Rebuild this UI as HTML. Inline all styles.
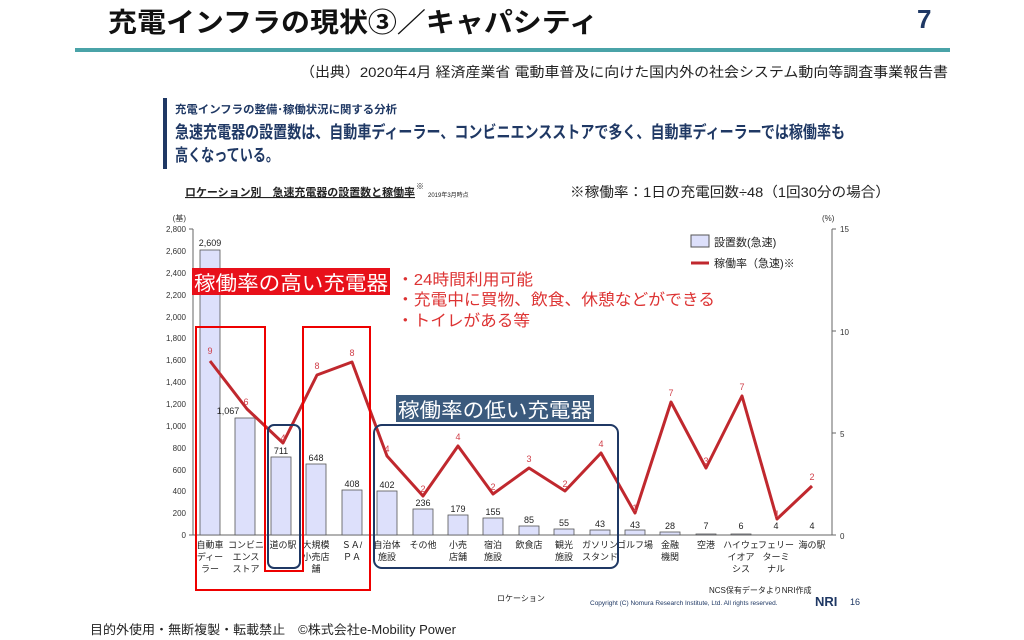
<!DOCTYPE html>
<html><head><meta charset="utf-8"><style>
body{margin:0;width:1024px;height:640px;background:#fff;overflow:hidden;position:relative;font-family:"Liberation Sans","Noto Sans CJK JP",sans-serif}
.a{position:absolute;white-space:nowrap}
</style></head><body>
<svg class="a" style="left:0;top:0" width="1024" height="640" font-family="Liberation Sans, Noto Sans CJK JP, sans-serif">
<text x="108" y="32" font-size="27" font-weight="bold" fill="#111" textLength="490" lengthAdjust="spacingAndGlyphs">充電インフラの現状③／キャパシティ</text>
<text x="917" y="28" font-size="26" font-weight="bold" fill="#1f3864">7</text>
<rect x="75" y="48" width="875" height="4" fill="#4aa3a8"/>
<text x="300" y="77" font-size="14" fill="#222" textLength="648" lengthAdjust="spacingAndGlyphs">（出典）2020年4月 経済産業省 電動車普及に向けた国内外の社会システム動向等調査事業報告書</text>
<text x="90" y="634" font-size="12.5" fill="#222" textLength="366" lengthAdjust="spacingAndGlyphs">目的外使用・無断複製・転載禁止　©株式会社e-Mobility Power</text>
<rect x="163" y="98" width="4" height="71" fill="#1f3864"/>
<text x="175" y="113" font-size="11" font-weight="bold" fill="#1f3864" textLength="222" lengthAdjust="spacingAndGlyphs">充電インフラの整備･稼働状況に関する分析</text>
<text x="175" y="138" font-size="17" font-weight="bold" fill="#1f3864" textLength="670" lengthAdjust="spacingAndGlyphs">急速充電器の設置数は、自動車ディーラー、コンビニエンスストアで多く、自動車ディーラーでは稼働率も</text>
<text x="175" y="161" font-size="17" font-weight="bold" fill="#1f3864" textLength="104" lengthAdjust="spacingAndGlyphs">高くなっている。</text>
<text x="185" y="196" font-size="11" font-weight="bold" fill="#222" text-decoration="underline" textLength="230" lengthAdjust="spacingAndGlyphs">ロケーション別　急速充電器の設置数と稼働率</text>
<text x="416" y="189" font-size="8" fill="#222">※</text>
<text x="428" y="197" font-size="6" fill="#222">2019年3月時点</text>
<text x="570" y="197" font-size="14" fill="#222" textLength="320" lengthAdjust="spacingAndGlyphs">※稼働率：1日の充電回数÷48（1回30分の場合）</text>
<g font-size="8" fill="#333" text-anchor="end">
<text x="186" y="221">(基)</text>
<text x="186" y="232">2,800</text><text x="186" y="254">2,600</text><text x="186" y="276">2,400</text><text x="186" y="298">2,200</text><text x="186" y="320">2,000</text><text x="186" y="341">1,800</text><text x="186" y="363">1,600</text><text x="186" y="385">1,400</text><text x="186" y="407">1,200</text><text x="186" y="429">1,000</text><text x="186" y="451">800</text><text x="186" y="473">600</text><text x="186" y="494">400</text><text x="186" y="516">200</text><text x="186" y="538">0</text>
</g>
<g font-size="8" fill="#333">
<text x="822" y="221">(%)</text><text x="840" y="232">15</text><text x="840" y="335">10</text><text x="840" y="437">5</text><text x="840" y="539">0</text>
</g>
<path d="M193 229V535H832V229M189 229h4M189 535h4M832 229h4M832 331h4M832 433h4M832 535h4" stroke="#666" fill="none"/>
<g fill="#dde0fb" stroke="#555" stroke-width="0.8">
<rect x="200" y="250" width="20" height="285"/><rect x="235" y="418" width="20" height="117"/><rect x="271" y="457" width="20" height="78"/><rect x="306" y="464" width="20" height="71"/><rect x="342" y="490" width="20" height="45"/><rect x="377" y="491" width="20" height="44"/><rect x="413" y="509" width="20" height="26"/><rect x="448" y="515" width="20" height="20"/><rect x="483" y="518" width="20" height="17"/><rect x="519" y="526" width="20" height="9"/><rect x="554" y="529" width="20" height="6"/><rect x="590" y="530" width="20" height="5"/><rect x="625" y="530" width="20" height="5"/><rect x="660" y="532" width="20" height="3"/><rect x="696" y="534" width="20" height="1"/><rect x="731" y="534" width="20" height="1"/>
</g>
<g font-size="9" fill="#222" text-anchor="middle">
<text x="210" y="246">2,609</text><text x="228" y="414">1,067</text><text x="281" y="454">711</text><text x="316" y="461">648</text><text x="352" y="487">408</text><text x="387" y="488">402</text><text x="423" y="506">236</text><text x="458" y="512">179</text><text x="493" y="515">155</text><text x="529" y="523">85</text><text x="564" y="526">55</text><text x="600" y="527">43</text><text x="635" y="528">43</text><text x="670" y="529">28</text><text x="706" y="529">7</text><text x="741" y="529">6</text><text x="776" y="529">4</text><text x="812" y="529">4</text>
</g>
<polyline points="210,361 247,409 283,443 317,375 352,362 387,456 423,496 458,446 493,494 529,468 565,491 601,453 635,513 671,402 706,468 742,396 777,519 812,486" fill="none" stroke="#c0282e" stroke-width="3" stroke-linejoin="round"/>
<g font-size="9" fill="#d0404a" text-anchor="middle">
<text x="210" y="354">9</text><text x="246" y="405">6</text><text x="283" y="441">4</text><text x="317" y="369">8</text><text x="352" y="356">8</text><text x="387" y="452">4</text><text x="423" y="492">2</text><text x="458" y="440">4</text><text x="493" y="490">2</text><text x="529" y="462">3</text><text x="565" y="487">2</text><text x="601" y="447">4</text><text x="635" y="511">1</text><text x="671" y="396">7</text><text x="706" y="464">3</text><text x="742" y="390">7</text><text x="777" y="517">1</text><text x="812" y="480">2</text>
</g>
<g font-size="9" fill="#222" text-anchor="middle">
<text x="210" y="548">自動車</text><text x="210" y="560">ディー</text><text x="210" y="572">ラー</text>
<text x="246" y="548">コンビニ</text><text x="246" y="560">エンス</text><text x="246" y="572">ストア</text>
<text x="283" y="548">道の駅</text>
<text x="316" y="548">大規模</text><text x="316" y="560">小売店</text><text x="316" y="572">舗</text>
<text x="352" y="548">ＳＡ/</text><text x="352" y="560">ＰＡ</text>
<text x="387" y="548">自治体</text><text x="387" y="560">施設</text>
<text x="423" y="548">その他</text>
<text x="458" y="548">小売</text><text x="458" y="560">店舗</text>
<text x="493" y="548">宿泊</text><text x="493" y="560">施設</text>
<text x="529" y="548">飲食店</text>
<text x="564" y="548">観光</text><text x="564" y="560">施設</text>
<text x="600" y="548">ガソリン</text><text x="600" y="560">スタンド</text>
<text x="635" y="548">ゴルフ場</text>
<text x="670" y="548">金融</text><text x="670" y="560">機関</text>
<text x="706" y="548">空港</text>
<text x="741" y="548">ハイウェ</text><text x="741" y="560">イオア</text><text x="741" y="572">シス</text>
<text x="776" y="548">フェリー</text><text x="776" y="560">ターミ</text><text x="776" y="572">ナル</text>
<text x="812" y="548">海の駅</text>
</g>
<rect x="691" y="235" width="18" height="12" fill="#dde0fb" stroke="#555"/>
<text x="714" y="246" font-size="11" fill="#222">設置数(急速)</text>
<line x1="691" y1="263" x2="709" y2="263" stroke="#c0282e" stroke-width="3"/>
<text x="714" y="267" font-size="11" fill="#222">稼働率（急速)※</text>
<path d="M196 327H265V571H303V327H370V590H196Z" fill="none" stroke="#e00" stroke-width="2"/>
<rect x="268" y="425" width="32" height="143" rx="6" fill="none" stroke="#1f3864" stroke-width="2"/>
<rect x="374" y="425" width="244" height="143" rx="8" fill="none" stroke="#1f3864" stroke-width="2"/>
<rect x="192" y="268" width="198" height="27" fill="#e8101a"/>
<text x="194" y="290" font-size="20" fill="#fff" textLength="194" lengthAdjust="spacingAndGlyphs">稼働率の高い充電器</text>
<text x="397" y="285" font-size="16" fill="#d33" textLength="136" lengthAdjust="spacingAndGlyphs">・24時間利用可能</text>
<text x="397" y="305" font-size="16" fill="#d33" textLength="318" lengthAdjust="spacingAndGlyphs">・充電中に買物、飲食、休憩などができる</text>
<text x="397" y="326" font-size="16" fill="#d33" textLength="133" lengthAdjust="spacingAndGlyphs">・トイレがある等</text>
<rect x="396" y="395" width="198" height="27" fill="#3b5a7d"/>
<text x="398" y="417" font-size="20" fill="#fff" textLength="194" lengthAdjust="spacingAndGlyphs">稼働率の低い充電器</text>
<text x="497" y="601" font-size="8" fill="#222">ロケーション</text>
<text x="709" y="593" font-size="8" fill="#222">NCS保有データよりNRI作成</text>
<text x="590" y="605" font-size="6.5" fill="#1f3864">Copyright (C)  Nomura Research Institute, Ltd. All rights reserved.</text>
<text x="815" y="606" font-size="13" font-weight="bold" fill="#1f3864">NRI</text>
<text x="850" y="605" font-size="9" fill="#1f3864">16</text>
</svg>
</body></html>
